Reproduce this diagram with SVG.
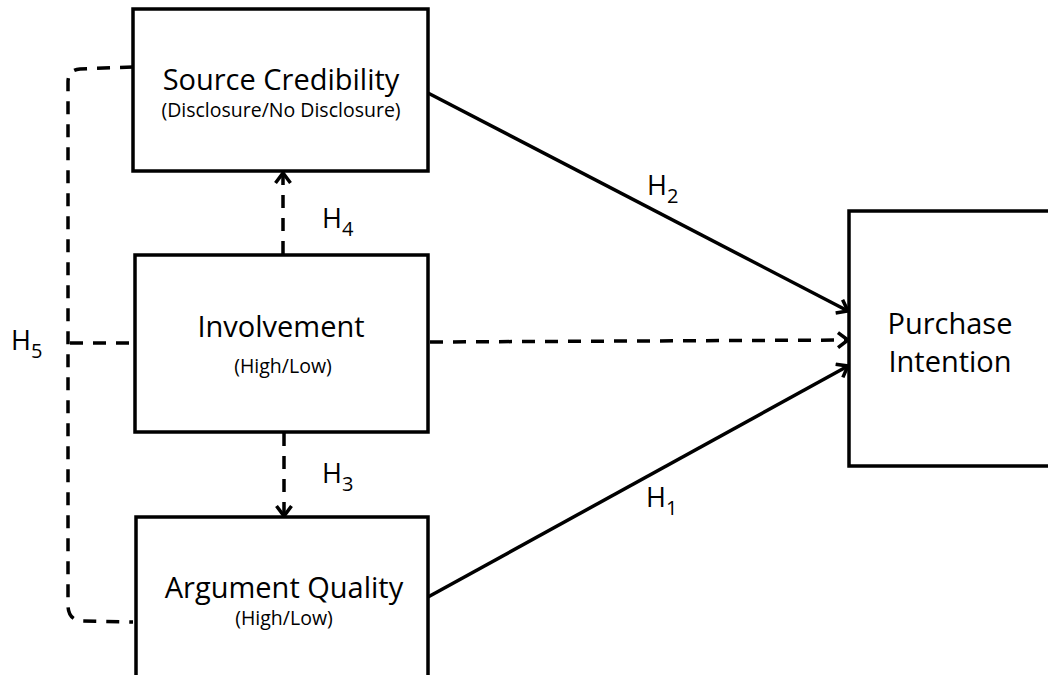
<svg xmlns="http://www.w3.org/2000/svg" width="1048" height="675" viewBox="0 0 1048 675">
<defs>
<style>
.box{fill:#fff;stroke:#000;stroke-width:3.5}
.t{font-family:"Open Sans",Lato,sans-serif;fill:#000;text-anchor:middle}
.big{font-size:29px}
.small{font-size:19.5px}
.h{font-family:"Open Sans",Lato,sans-serif;font-size:27px;fill:#000}
.sub{font-size:20px}
.ln{fill:none;stroke:#000;stroke-width:3.5}
.dash{fill:none;stroke:#000;stroke-width:3.5;stroke-dasharray:13 10}
</style>
<marker id="ah" markerWidth="18" markerHeight="18" refX="13" refY="9" orient="auto" markerUnits="userSpaceOnUse">
<path d="M3,1.5 L13,9 L3,16.5" fill="none" stroke="#000" stroke-width="3.5"/>
</marker>
</defs>
<rect width="1048" height="675" fill="#fff"/>
<g id="connectors">
<path class="ln" d="M428,93 L848,311" marker-end="url(#ah)"/>
<path class="ln" d="M428,597 L848,366" marker-end="url(#ah)"/>
<path class="dash" d="M430,342 L848,340" marker-end="url(#ah)"/>
<path class="dash" d="M283,254 L283,173" marker-end="url(#ah)"/>
<path class="dash" d="M284,433 L284,516" marker-end="url(#ah)"/>
<path class="dash" d="M133,67 L80,69 Q68,70 68,82 L68,605 Q68,620 82,621 L133,622"/>
<path class="dash" d="M70,343 L134,343"/>
</g>
<g id="source">
<rect class="box" x="133" y="9" width="295" height="162"/>
<text class="t big" x="281" y="90">Source Credibility</text>
<text class="t small" x="281" y="117">(Disclosure/No Disclosure)</text>
</g>
<g id="involvement">
<rect class="box" x="135" y="255" width="293" height="177"/>
<text class="t big" x="281" y="337">Involvement</text>
<text class="t small" x="283" y="373">(High/Low)</text>
</g>
<g id="argument">
<rect class="box" x="136" y="517" width="292" height="175"/>
<text class="t big" x="284" y="598">Argument Quality</text>
<text class="t small" x="284" y="625">(High/Low)</text>
</g>
<g id="purchase">
<rect class="box" x="849" y="211" width="210" height="255"/>
<text class="t big" x="950" y="334">Purchase</text>
<text class="t big" x="950" y="372">Intention</text>
</g>
<g id="labels">
<text class="h" x="647" y="195">H<tspan class="sub" dy="8">2</tspan></text>
<text class="h" x="322" y="228">H<tspan class="sub" dy="8">4</tspan></text>
<text class="h" x="11" y="350">H<tspan class="sub" dy="8">5</tspan></text>
<text class="h" x="322" y="483">H<tspan class="sub" dy="8">3</tspan></text>
<text class="h" x="646" y="507">H<tspan class="sub" dy="8">1</tspan></text>
</g>
</svg>
